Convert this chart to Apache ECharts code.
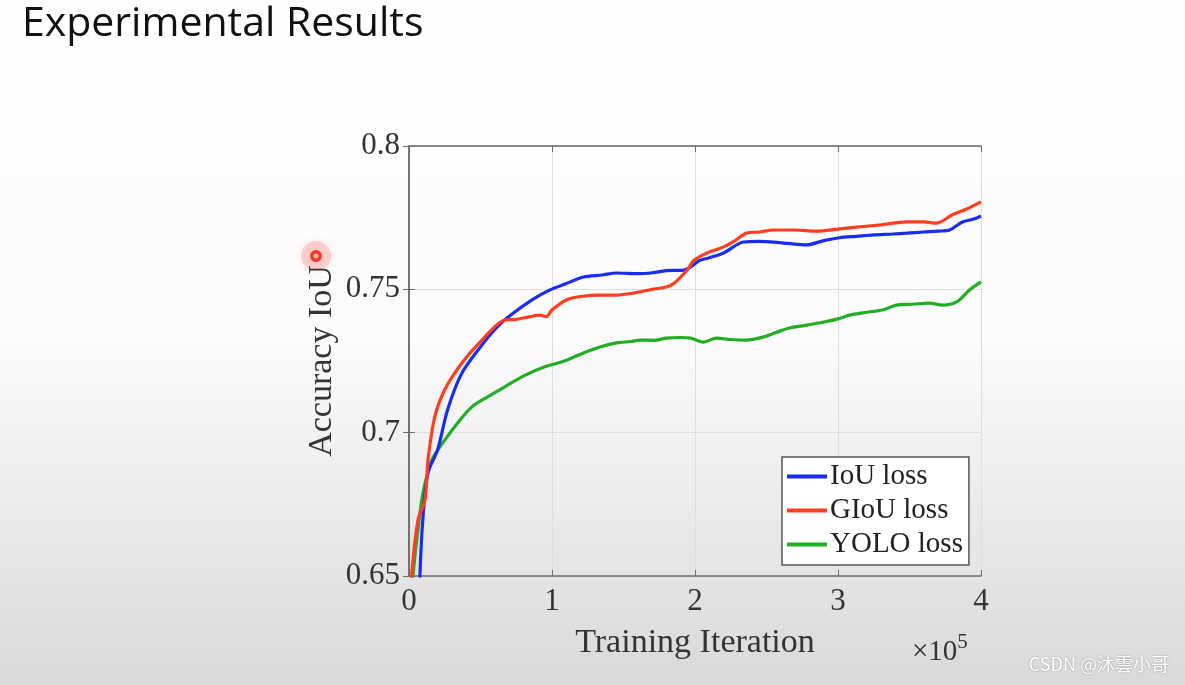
<!DOCTYPE html>
<html>
<head>
<meta charset="utf-8">
<script src="https://cdn.jsdelivr.net/npm/echarts@6/dist/echarts.min.js"></script>
<style>
html,body{margin:0;padding:0;}
#c{width:1185px;height:685px;}
</style>
</head>
<body>
<div id="c"></div>
<script>
// Data (x in units of 1e5 iterations)
const iouLoss = [[0.06,0.62],[0.077,0.651],[0.098,0.6706],[0.133,0.686],[0.2,0.694],[0.27,0.708],[0.37,0.7208],[0.51,0.7306],[0.6,0.736],[0.685,0.740],[0.86,0.7463],[0.986,0.7498],[1.1,0.752],[1.22,0.7543],[1.35,0.755],[1.45,0.7557],[1.6,0.7555],[1.69,0.7557],[1.8,0.7565],[1.92,0.7567],[1.97,0.7578],[2.03,0.760],[2.1,0.761],[2.2,0.7627],[2.34,0.7665],[2.45,0.7667],[2.55,0.7665],[2.65,0.766],[2.78,0.7655],[2.9,0.767],[3.01,0.768],[3.13,0.7685],[3.25,0.769],[3.38,0.7693],[3.48,0.7696],[3.6,0.770],[3.7,0.7703],[3.78,0.7707],[3.87,0.7735],[3.95,0.7745],[4.0,0.7756]];
const giouLoss = [[0.0,0.63],[0.02,0.651],[0.063,0.6695],[0.112,0.6765],[0.133,0.6905],[0.18,0.7055],[0.25,0.715],[0.37,0.7243],[0.51,0.7323],[0.67,0.7393],[0.75,0.7395],[0.85,0.7405],[0.92,0.741],[0.96,0.7405],[1.0,0.7428],[1.1,0.7463],[1.2,0.7475],[1.34,0.748],[1.45,0.748],[1.57,0.7487],[1.7,0.750],[1.8,0.7508],[1.85,0.752],[1.9,0.7543],[1.95,0.757],[1.99,0.760],[2.03,0.7613],[2.1,0.763],[2.2,0.7648],[2.28,0.767],[2.36,0.7696],[2.45,0.770],[2.55,0.7707],[2.7,0.7707],[2.85,0.7703],[3.0,0.771],[3.13,0.7717],[3.3,0.7725],[3.48,0.7735],[3.6,0.7735],[3.69,0.7731],[3.8,0.776],[3.9,0.778],[4.0,0.7805]];
const yoloLoss = [[0.0,0.63],[0.03,0.651],[0.06,0.665],[0.098,0.679],[0.16,0.6905],[0.25,0.6974],[0.34,0.7034],[0.44,0.709],[0.55,0.7125],[0.67,0.716],[0.81,0.720],[0.95,0.723],[1.07,0.7247],[1.22,0.7278],[1.33,0.7298],[1.45,0.7313],[1.55,0.7318],[1.62,0.7323],[1.72,0.7322],[1.8,0.733],[1.9,0.7332],[1.97,0.733],[2.06,0.7316],[2.15,0.733],[2.25,0.7325],[2.36,0.7323],[2.48,0.7334],[2.57,0.735],[2.66,0.7365],[2.78,0.7375],[2.9,0.7386],[3.0,0.7397],[3.08,0.741],[3.2,0.742],[3.31,0.7428],[3.41,0.7445],[3.52,0.7448],[3.64,0.7452],[3.73,0.7445],[3.83,0.7456],[3.92,0.7498],[4.0,0.7526]];
const seriesNames = ['IoU loss','GIoU loss','YOLO loss'];
const seriesColors = ['#1a2cf0','#ff3d1f','#1fae24'];
const yTickLabels = {'0.65':'0.65','0.7':'0.7','0.75':'0.75','0.8':'0.8'};

const serif = '"Liberation Serif","DejaVu Serif",serif';
const chart = echarts.init(document.getElementById('c'));
const axisLineColor = '#6b6b6b';
const fmtY = v => { const k = (+v.toFixed(2)).toString(); return yTickLabels[k] || k; };

chart.setOption({
  backgroundColor: {
    type:'linear', x:0, y:0, x2:0, y2:1,
    colorStops:[{offset:0,color:'#ffffff'},{offset:0.5,color:'#fbfbfb'},{offset:1,color:'#d9d9d9'}]
  },
  animation:false,
  grid:{left:409, top:146, width:572, height:430, containLabel:false},
  legend:{
    orient:'vertical', left:782, top:457,
    data: seriesNames,
    icon:'rect', itemWidth:40, itemHeight:4, itemGap:5,
    padding:[5,6,6,5],
    borderColor:'#555', borderWidth:1.5, backgroundColor:'#ffffff',
    textStyle:{fontFamily:serif, fontSize:29, color:'#222', lineHeight:29, padding:[0,0,0,-2]}
  },
  xAxis:[{
    type:'value', min:0, max:4, interval:1,
    name:'Training Iteration', nameLocation:'middle', nameGap:50,
    nameTextStyle:{fontFamily:serif, fontSize:34, color:'#333'},
    axisLine:{show:true, lineStyle:{color:axisLineColor, width:1.5}},
    axisTick:{show:true, inside:true, length:6, lineStyle:{color:axisLineColor}},
    axisLabel:{fontFamily:serif, fontSize:31, color:'#333', margin:10},
    splitLine:{show:true, lineStyle:{color:'#dedede', width:1}}
  },{
    type:'value', min:0, max:4, interval:1, position:'top',
    axisLine:{show:true, lineStyle:{color:axisLineColor, width:1.5}},
    axisTick:{show:true, inside:true, length:6, lineStyle:{color:axisLineColor}},
    axisLabel:{show:false}, splitLine:{show:false}
  }],
  yAxis:[{
    type:'value', min:0.65, max:0.8, interval:0.05,
    name:'Accuracy IoU', nameLocation:'middle', nameGap:70, nameRotate:90,
    nameTextStyle:{fontFamily:serif, fontSize:34, color:'#333'},
    axisLine:{show:true, lineStyle:{color:axisLineColor, width:1.5}},
    axisTick:{show:true, inside:true, length:6, lineStyle:{color:axisLineColor}},
    axisLabel:{fontFamily:serif, fontSize:31, color:'#333', margin:9, formatter:fmtY},
    splitLine:{show:true, lineStyle:{color:'#dedede', width:1}}
  },{
    type:'value', min:0.65, max:0.8, interval:0.05, position:'right',
    axisLine:{show:true, lineStyle:{color:axisLineColor, width:1.5}},
    axisTick:{show:true, inside:true, length:6, lineStyle:{color:axisLineColor}},
    axisLabel:{show:false}, splitLine:{show:false}
  }],
  series:[
    {name:seriesNames[0], type:'line', data:iouLoss, showSymbol:false, smooth:0.3, clip:true,
     lineStyle:{color:seriesColors[0], width:3.2}, itemStyle:{color:seriesColors[0]}, z:3},
    {name:seriesNames[1], type:'line', data:giouLoss, showSymbol:false, smooth:0.3, clip:true,
     lineStyle:{color:seriesColors[1], width:3.2}, itemStyle:{color:seriesColors[1]}, z:4},
    {name:seriesNames[2], type:'line', data:yoloLoss, showSymbol:false, smooth:0.3, clip:true,
     lineStyle:{color:seriesColors[2], width:3.2}, itemStyle:{color:seriesColors[2]}, z:2}
  ],
  graphic:[
    {type:'text', left:22, top:4, style:{text:'Experimental Results', fontFamily:'"Open Sans",sans-serif', fontSize:41, fill:'#111'}},
    {type:'text', left:912, top:632, style:{
      text:'{a|×10}{b|5}', fontFamily:serif,
      rich:{a:{fontFamily:serif, fontSize:29, fill:'#333', verticalAlign:'bottom'},
            b:{fontFamily:serif, fontSize:21, fill:'#333', verticalAlign:'top', padding:[0,0,14,0]}}
    }},
    {type:'text', right:16, top:655, style:{text:'CSDN @沐雲小哥', fontFamily:'"Noto Sans CJK SC","Noto Sans",sans-serif', fontSize:18, fill:'#ffffff', textShadowColor:'rgba(0,0,0,0.35)', textShadowBlur:2}},
    {type:'circle', shape:{cx:316, cy:256, r:15}, style:{fill:'rgba(255,90,80,0.22)', shadowBlur:10, shadowColor:'rgba(255,60,60,0.5)'}},
    {type:'circle', shape:{cx:316, cy:256, r:6}, style:{fill:'#f23a2a'}},
    {type:'circle', shape:{cx:316, cy:256, r:2.5}, style:{fill:'#ffb3a8'}}
  ]
});
</script>
</body>
</html>
